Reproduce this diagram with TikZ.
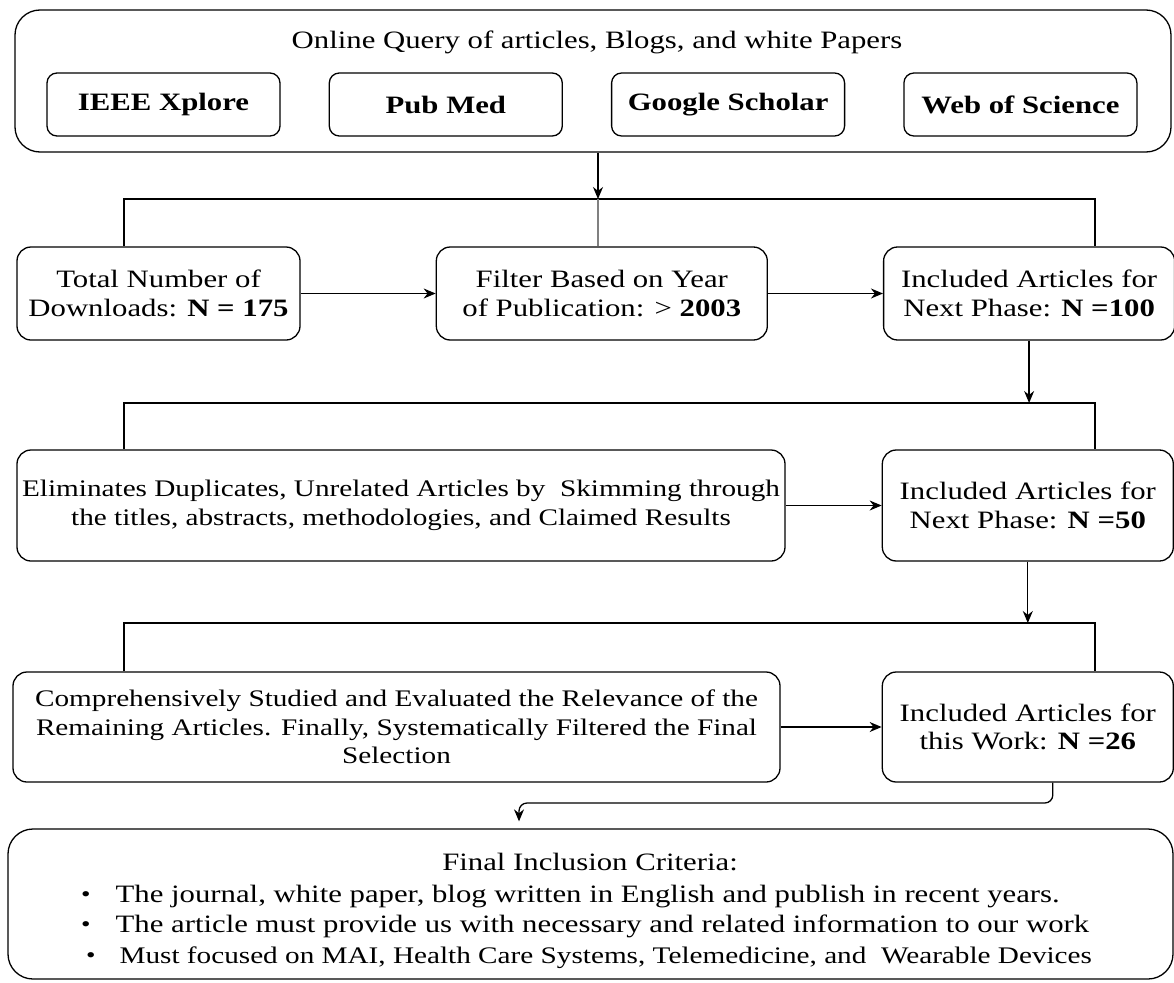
\documentclass[tikz,border=0pt]{standalone}
\usepackage{fontspec}
\setmainfont{Liberation Serif}[FakeStretch=1.23]
\usetikzlibrary{arrows.meta,positioning}

\newcommand{\boxfont}{\fontsize{25}{28.5}\selectfont}
\newcommand{\smallboxfont}{\fontsize{23.75}{28.5}\selectfont}
\newcommand{\listdot}{\raisebox{1pt}{\fontsize{22}{22}\selectfont\textbullet}}

\tikzset{
    box/.style={draw, rounded corners=14pt, line width=1.3pt, align=center, inner sep=2pt, font=\boxfont},
    dbbox/.style={draw, rounded corners=10pt, line width=1.3pt, minimum width=233pt, minimum height=63pt, font=\boxfont\bfseries},
    sidebox/.style={box, minimum width=291pt},
    link/.style={line width=1.3pt},
}

\begin{document}
\begin{tikzpicture}[x=1pt, y=-1pt, >={Stealth[length=12pt,width=10pt]}]
    \useasboundingbox (0,0) rectangle (1174,982);

    % Search block {qry, ieee, pubmed, scholar, wos}
    \node [box, rounded corners=25pt, minimum width=1156pt, minimum height=142pt] (qry) at (593,81) {};
    \node [font=\boxfont]      (qtitle)  at (597,42)             {Online Query of articles, Blogs, and white Papers};
    \node [dbbox]              (ieee)    at (163.5,104.5)        {IEEE Xplore};
    \node [dbbox]              (pubmed)  [right=48pt of ieee]    {Pub Med};
    \node [dbbox]              (scholar) [right=48pt of pubmed]  {Google Scholar};
    \node [dbbox]              (wos)     [right=58pt of scholar] {Web of Science};

    % Screening rows
    \node [box, minimum width=283pt, minimum height=93pt] (tot) at (158.5,293.5) {Total Number of\\Downloads: \textbf{N = 175}};
    \node [box, minimum width=331pt, minimum height=93pt] (fil)  [right=135pt of tot] {Filter Based on Year\\of Publication: > \textbf{2003}};
    \node [sidebox, minimum height=93pt]                  (inc1) [right=115pt of fil] {Included Articles for\\Next Phase: \textbf{N =100}};

    \node [box, font=\smallboxfont, minimum width=768pt, minimum height=111pt] (elim) at (401,505.5) {Eliminates Duplicates, Unrelated Articles by\ \ Skimming through\\the titles, abstracts, methodologies, and Claimed Results};
    \node [sidebox, minimum height=111pt]                  (inc2) [right=96pt of elim] {Included Articles for\\Next Phase: \textbf{N =50}};

    \node [box, font=\smallboxfont, minimum width=767pt, minimum height=110pt] (comp) at (396.5,727) {Comprehensively Studied and Evaluated the Relevance of the\\Remaining Articles. Finally, Systematically Filtered the Final\\Selection};
    \node [sidebox, minimum height=110pt]                  (inc3) [right=101pt of comp] {Included Articles for\\this Work: \textbf{N =26}};

    % Final criteria
    \node [box, rounded corners=25pt, minimum width=1165pt, minimum height=150pt] (fin) at (590.5,904) {};
    \node [font=\boxfont] (fintitle) at (590,862) {Final Inclusion Criteria:};
    \node [font=\fontsize{25}{30.5}\selectfont, anchor=base west, inner sep=0pt] (finlist) at (81,902)
        {\begin{tabular}[t]{@{}l@{\hspace{20pt}}l@{}}
         \listdot & The journal, white paper, blog written in English and publish in recent years.\\
         \listdot & The article must provide us with necessary and related information to our work\\
         \hspace{5pt}\listdot & {\smallboxfont\,Must focused on MAI, Health Care Systems, Telemedicine, and\ \ Wearable Devices}
         \end{tabular}};

    % Bus lines
    \coordinate (l1) at (124,199);  \coordinate (r1) at (1095,199);  \coordinate (m1) at (598,199);
    \coordinate (l2) at (124,403);  \coordinate (r2) at (1095,403);
    \coordinate (l3) at (124,623);  \coordinate (r3) at (1095,623);
    \coordinate (turn) at (519,803);

    % Paths
    \draw [link, ->]   (qry.south -| m1) -- (m1);
    \draw [link]       (l1 |- tot.north) -- (l1) -- (r1) -- (r1 |- inc1.north);
    \draw [link, gray] (m1) -- (m1 |- fil.north);
    \draw [link, ->]   (tot)  -- (fil);
    \draw [link, ->]   (fil)  -- (inc1);

    \draw [link, ->]   (inc1.south) -- (inc1.south |- l2);
    \draw [link]       (l2 |- elim.north) -- (l2) -- (r2) -- (r2 |- inc2.north);
    \draw [link, ->]   (elim) -- (inc2);

    \draw [link, ->]   (inc2.south) -- (inc2.south |- l3);
    \draw [link]       (l3 |- comp.north) -- (l3) -- (r3) -- (r3 |- inc3.north);
    \draw [link, ->]   (comp) -- (inc3);

    \draw [link, ->, rounded corners=8pt, shorten >=7pt] ([xshift=25pt]inc3.south) |- (turn) -- (turn |- fin.north);
\end{tikzpicture}
\end{document}
